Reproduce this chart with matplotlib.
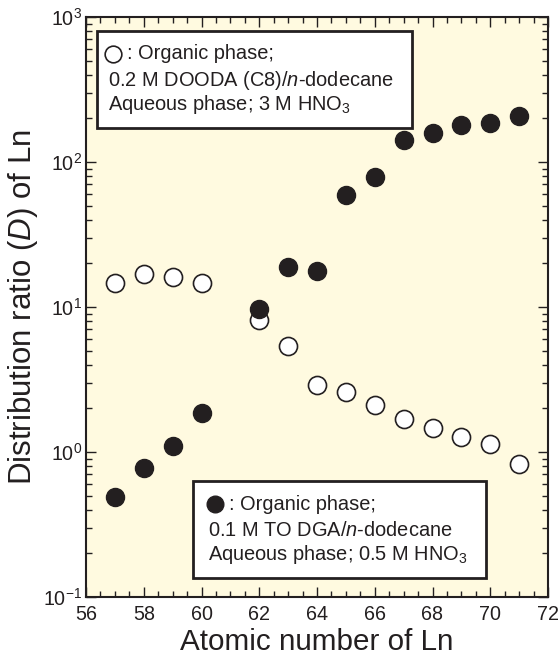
import matplotlib
matplotlib.use("Agg")
import matplotlib.pyplot as plt
from matplotlib.patches import Rectangle
from matplotlib.ticker import MultipleLocator, LogLocator

plt.rcParams['font.family'] = ['Liberation Sans', 'DejaVu Sans']
plt.rcParams['mathtext.fontset'] = 'custom'
plt.rcParams['mathtext.rm'] = 'Liberation Sans'
plt.rcParams['mathtext.it'] = 'Liberation Sans:italic'

# Data
atomic_open = [57, 58, 59, 60, 62, 63, 64, 65, 66, 67, 68, 69, 70, 71]
d_dooda = [14.6, 16.9, 16.1, 14.6, 8.1, 5.4, 2.9, 2.6, 2.1, 1.7, 1.47, 1.27, 1.13, 0.83]
atomic_filled = [57, 58, 59, 60, 62, 63, 64, 65, 66, 67, 68, 69, 70, 71]
d_todga = [0.49, 0.78, 1.1, 1.86, 9.7, 18.9, 17.7, 59, 79, 142, 158, 180, 186, 208]

bg = '#FFFAE0'
ink = '#231F20'

fig = plt.figure(figsize=(5.6, 6.57), dpi=100)
ax = fig.add_axes([86/560, 1-597/657, 462/560, 580/657])
ax.set_facecolor(bg)

ax.plot(atomic_open, d_dooda, 'o', ms=13, mfc='white', mec=ink, mew=1.2, zorder=3)
ax.plot(atomic_filled, d_todga, 'o', ms=13, mfc=ink, mec=ink, mew=1.0, zorder=4)

ax.set_yscale('log')
ax.set_xlim(56, 72)
ax.set_ylim(0.1, 1000)
ax.xaxis.set_major_locator(MultipleLocator(2))
ax.xaxis.set_minor_locator(MultipleLocator(0.5))
ax.yaxis.set_major_locator(LogLocator(base=10, numticks=10))
ax.yaxis.set_minor_locator(LogLocator(base=10, subs=range(2, 10), numticks=20))
ax.tick_params(which='both', direction='in', top=True, right=True, colors=ink, width=1.0)
ax.tick_params(which='major', length=7, labelsize=14.2)
ax.tick_params(which='minor', length=4)
ax.tick_params(axis='x', which='major', pad=6)
ax.tick_params(axis='y', which='major', pad=3)
for s in ax.spines.values():
    s.set_linewidth(1.5)
    s.set_color(ink)

ax.set_xlabel('Atomic number of Ln', fontsize=21.3, color=ink, labelpad=3)
ax.set_ylabel('Distribution ratio ($\\mathit{D}$) of Ln', fontsize=22.5, color=ink, labelpad=2)

fs = 14.4
# Top info box
ax.add_patch(Rectangle((0.024, 0.809), 0.682, 0.167, transform=ax.transAxes,
                       facecolor='white', edgecolor=ink, lw=2, zorder=5))
ax.plot([0.058], [0.937], 'o', ms=12, mfc='white', mec=ink, mew=1.2,
        transform=ax.transAxes, zorder=6, clip_on=False)
ax.text(0.088, 0.937, ': Organic phase;', transform=ax.transAxes, fontsize=fs,
        va='center', ha='left', color=ink, zorder=6)
ax.text(0.047, 0.890, '0.2 M DOODA (C8)/$\\mathit{n}$-dodecane', transform=ax.transAxes,
        fontsize=fs, va='center', ha='left', color=ink, zorder=6)
ax.text(0.047, 0.850, 'Aqueous phase; 3 M HNO$_3$', transform=ax.transAxes,
        fontsize=fs, va='center', ha='left', color=ink, zorder=6)

# Bottom info box
ax.add_patch(Rectangle((0.232, 0.033), 0.634, 0.167, transform=ax.transAxes,
                       facecolor='white', edgecolor=ink, lw=2, zorder=5))
ax.plot([0.279], [0.160], 'o', ms=12, mfc=ink, mec=ink,
        transform=ax.transAxes, zorder=6, clip_on=False)
ax.text(0.309, 0.160, ': Organic phase;', transform=ax.transAxes, fontsize=fs,
        va='center', ha='left', color=ink, zorder=6)
ax.text(0.264, 0.115, '0.1 M TO DGA/$\\mathit{n}$-dodecane', transform=ax.transAxes,
        fontsize=fs, va='center', ha='left', color=ink, zorder=6)
ax.text(0.264, 0.074, 'Aqueous phase; 0.5 M HNO$_3$', transform=ax.transAxes,
        fontsize=fs, va='center', ha='left', color=ink, zorder=6)

fig.savefig('out.png', dpi=100, facecolor='white')
